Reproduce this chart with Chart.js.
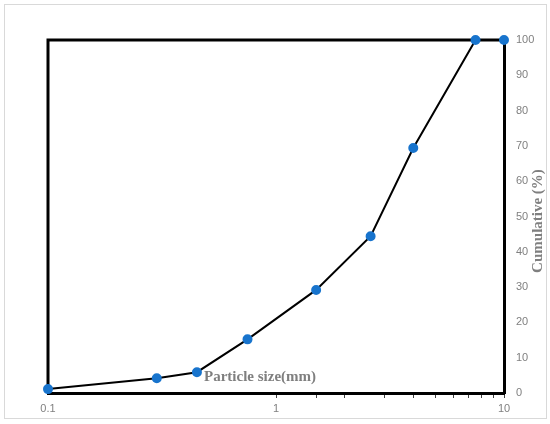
<!DOCTYPE html>
<html lang="en">
<head>
  <meta charset="UTF-8" />
  <title>Particle size distribution</title>
  <script src="https://cdn.jsdelivr.net/npm/chart.js"></script>
  <style>
    * { margin: 0; padding: 0; box-sizing: border-box; }
    body { background: #fff; width: 550px; height: 424px; overflow: hidden; }
    .wrap { position: relative; width: 550px; height: 424px; }
    canvas { display: block; }
    .frame {
      position: absolute; left: 4px; top: 4px; width: 543px; height: 415px;
      border: 1px solid #d9d9d9; pointer-events: none;
    }
    .xtitle, .ytitle {
      position: absolute;
      font-family: 'Liberation Serif', serif;
      font-weight: bold;
      font-size: 15px;
      color: #7f7f7f;
      white-space: nowrap;
    }
    .xtitle { left: 204px; top: 368px; }
    .ytitle { left: 537px; top: 221px; transform: translate(-50%, -50%) rotate(-90deg); }
  </style>
</head>
<body>
  <div class="wrap">
    <canvas id="sieveChart" width="550" height="424"></canvas>
    <div class="frame"></div>
    <div class="xtitle">Particle size(mm)</div>
    <div class="ytitle">Cumulative (%)</div>
  </div>

  <script>
    // particle size (mm) and cumulative passing (%)
    const sizes = [0.1, 0.3, 0.45, 0.75, 1.5, 2.6, 4, 7.5, 10];
    const cumulative = [1.1, 4.2, 5.9, 15.2, 29.2, 44.4, 69.4, 100, 100];
    const xLabels = [0.1, 1, 10];
    const yMin = 0, yMax = 100, yStep = 10;

    // black frame on top and left side of the plot area
    const framePlugin = {
      id: 'frame',
      beforeDatasetsDraw(chart) {
        const a = chart.chartArea, c = chart.ctx;
        c.save();
        c.strokeStyle = '#000';
        c.lineWidth = 3;
        c.beginPath();
        c.moveTo(a.left, a.bottom);
        c.lineTo(a.left, a.top);
        c.lineTo(a.right, a.top);
        c.stroke();
        c.restore();
      }
    };

    new Chart(sieveChart, {
      type: 'line',
      data: {
        datasets: [{
          data: sizes.map((s, i) => ({ x: s, y: cumulative[i] })),
          borderColor: '#000',
          borderWidth: 2,
          pointBackgroundColor: '#1874cd',
          pointBorderColor: '#1874cd',
          pointRadius: 4,
          tension: 0,
          clip: false
        }]
      },
      options: {
        responsive: false,
        animation: false,
        layout: { padding: { left: 48, top: 40, right: 0, bottom: 0 } },
        plugins: { legend: { display: false }, tooltip: { enabled: false } },
        scales: {
          x: {
            type: 'logarithmic',
            min: 0.1,
            max: 10,
            afterFit: s => { s.height = 31; },
            border: { color: '#000', width: 3 },
            grid: {
              drawOnChartArea: false,
              tickLength: 5,
              color: ctx => (ctx.tick && ctx.tick.value >= 1 ? '#404040' : 'rgba(0,0,0,0)')
            },
            ticks: {
              autoSkip: false,
              maxRotation: 0,
              color: '#808080',
              font: { family: 'Liberation Sans', size: 11 },
              padding: 4,
              callback: v => (xLabels.some(l => Math.abs(l - v) < 1e-9) ? String(v) : '')
            }
          },
          y: {
            position: 'right',
            min: yMin,
            max: yMax,
            afterFit: s => { s.width = 46; },
            border: { color: '#000', width: 3 },
            grid: { display: false, drawTicks: false },
            ticks: {
              stepSize: yStep,
              autoSkip: false,
              color: '#808080',
              font: { family: 'Liberation Sans', size: 11 },
              padding: 12
            }
          }
        }
      },
      plugins: [framePlugin]
    });
  </script>
</body>
</html>
